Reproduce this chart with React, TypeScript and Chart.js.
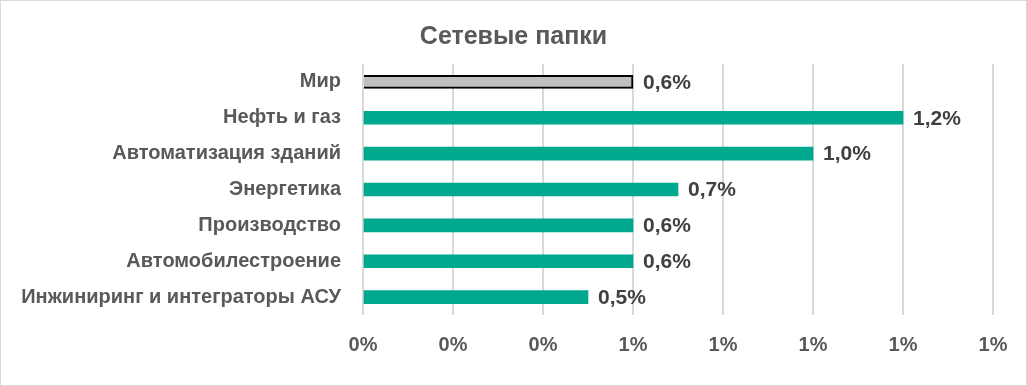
import React, { useEffect, useRef } from "react";
import { Chart, registerables } from "chart.js";

Chart.register(...registerables);

const TITLE = "Сетевые папки";
const categories = [
  "Мир",
  "Нефть и газ",
  "Автоматизация зданий",
  "Энергетика",
  "Производство",
  "Автомобилестроение",
  "Инжиниринг и интеграторы АСУ",
];
const values = [0.6, 1.2, 1.0, 0.7, 0.6, 0.6, 0.5];
const barColors = ["#BFBFBF", "#00A88E", "#00A88E", "#00A88E", "#00A88E", "#00A88E", "#00A88E"];
const borderColors = ["#000000", "#00A88E", "#00A88E", "#00A88E", "#00A88E", "#00A88E", "#00A88E"];
const borderWidths = [2, 0, 0, 0, 0, 0, 0];
const X_MIN = 0;
const X_MAX = 1.4;
const X_STEP = 0.2;

const FONT = "'Liberation Sans', Arial, sans-serif";

const frame = {
  id: "frame",
  beforeDraw(chart: any) {
    const { ctx, width, height } = chart;
    ctx.save();
    ctx.fillStyle = "#FFFFFF";
    ctx.fillRect(0, 0, width, height);
    ctx.strokeStyle = "#D9D9D9";
    ctx.lineWidth = 1;
    ctx.strokeRect(0.5, 0.5, width - 1, height - 1);
    ctx.restore();
  },
};

const valueLabels = {
  id: "valueLabels",
  afterDatasetsDraw(chart: any) {
    const { ctx } = chart;
    const meta = chart.getDatasetMeta(0);
    ctx.save();
    ctx.font = `bold 21px ${FONT}`;
    ctx.fillStyle = "#404040";
    ctx.textAlign = "left";
    ctx.textBaseline = "middle";
    meta.data.forEach((el: any, i: number) => {
      const v = chart.data.datasets[0].data[i] as number;
      const txt = v.toFixed(1).replace(".", ",") + "%";
      ctx.fillText(txt, el.x + 10, el.y + 1);
    });
    ctx.restore();
  },
};

export default function App() {
  const ref = useRef<HTMLCanvasElement | null>(null);

  useEffect(() => {
    document.body.style.margin = "0";
    const canvas = ref.current!;
    const chart = new Chart(canvas, {
      type: "bar",
      data: {
        labels: categories,
        datasets: [
          {
            data: values,
            backgroundColor: barColors,
            borderColor: borderColors,
            borderWidth: borderWidths,
            borderSkipped: "start",
            barThickness: 13,
          },
        ],
      },
      options: {
        indexAxis: "y",
        animation: false,
        responsive: false,
        maintainAspectRatio: false,
        layout: { padding: { left: 0, right: 0, top: 0, bottom: 0 } },
        plugins: {
          legend: { display: false },
          tooltip: { enabled: false },
          title: {
            display: true,
            text: TITLE,
            color: "#595959",
            font: { family: FONT, size: 25, weight: "bold" },
            padding: { top: 22, bottom: 12 },
          },
        },
        scales: {
          x: {
            min: X_MIN,
            max: X_MAX,
            grid: { color: "#D9D9D9", lineWidth: 2, drawTicks: false },
            border: { display: false },
            ticks: {
              stepSize: X_STEP,
              padding: 18,
              color: "#595959",
              font: { family: FONT, size: 20, weight: "bold" },
              callback: (v: any) => Math.round(Number(v)) + "%",
            },
            afterFit: (scale: any) => {
              scale.height = 71;
            },
          },
          y: {
            grid: { display: false, drawTicks: false },
            border: { display: false },
            ticks: {
              padding: 22,
              color: "#595959",
              font: { family: FONT, size: 20, weight: "bold" },
            },
            afterFit: (scale: any) => {
              scale.width = 363;
            },
          },
          spacer: {
            type: "linear",
            position: "right",
            display: true,
            grid: { display: false, drawTicks: false },
            border: { display: false },
            ticks: { display: false },
            afterFit: (scale: any) => {
              scale.width = 34;
            },
          },
        },
      },
      plugins: [frame, valueLabels],
    });
    return () => chart.destroy();
  }, []);

  return (
    <div style={{ width: 1027, height: 386 }}>
      <canvas ref={ref} width={1027} height={386} style={{ display: "block" }} />
    </div>
  );
}
